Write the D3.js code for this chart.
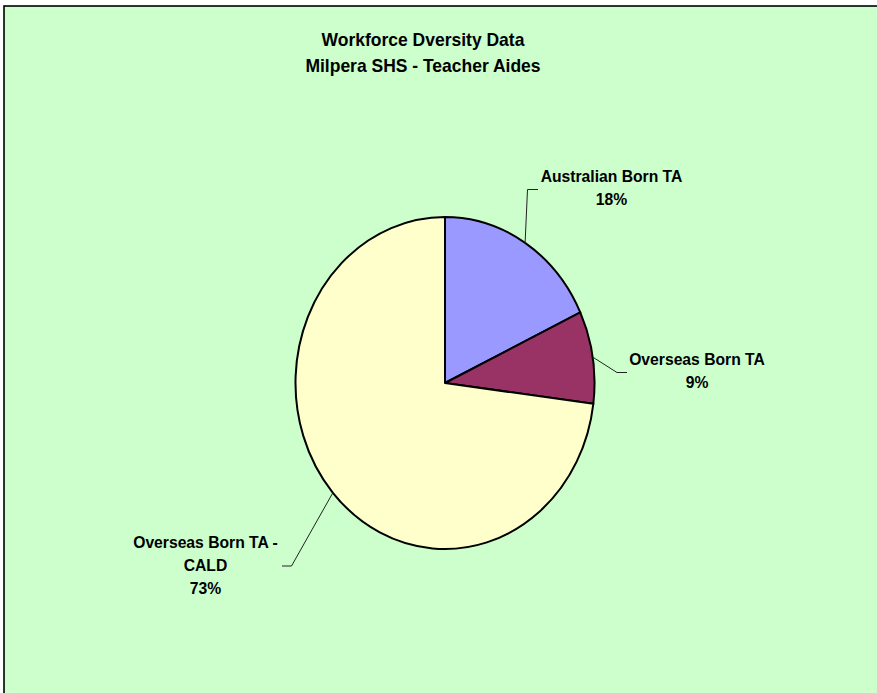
<!DOCTYPE html>
<html>
<head>
<meta charset="utf-8">
<script src="https://cdn.jsdelivr.net/npm/d3@7/dist/d3.min.js"></script>
<style>
  html, body { margin: 0; padding: 0; background: #ffffff; }
  svg { display: block; }
  text { font-family: "Liberation Sans", Arial, sans-serif; font-weight: bold; fill: #000; }
</style>
</head>
<body>
<svg id="chart" width="877" height="693"></svg>
<script>
// Workforce diversity – teacher aides at Milpera SHS (percent of staff)
const categories = ["Australian Born TA", "Overseas Born TA", "Overseas Born TA - CALD"];
const labelLines = [["Australian Born TA"], ["Overseas Born TA"], ["Overseas Born TA -", "CALD"]];
const percents = [18, 9, 73];
const colors = ["#9999FF", "#993366", "#FFFFCC"];
const titleLines = ["Workforce Dversity Data", "Milpera SHS - Teacher Aides"];

const W = 877, H = 693;
const svg = d3.select("#chart");
const textStretch = 1.06; // glyphs are drawn slightly taller than wide

// chart area
svg.append("rect")
  .attr("x", 4).attr("y", 6)
  .attr("width", W + 10).attr("height", H + 10)
  .attr("fill", "#CCFFCC")
  .attr("stroke", "#000").attr("stroke-width", 1.6);

// multi-line centred text block, first baseline at (x, y)
function textBlock(x, y, lines, size, gap) {
  const t = svg.append("text")
    .attr("text-anchor", "middle")
    .attr("transform", `translate(${x},${y}) scale(1,${textStretch})`)
    .style("font-size", size + "px");
  lines.forEach((s, j) => {
    t.append("tspan").attr("x", 0).attr("y", j * gap / textStretch).text(s);
  });
  return t;
}

// title
textBlock(423, 46, titleLines, 17.5, 26);

// elliptical pie: circular arcs stretched horizontally
const cx = 445, cy = 383, rx = 149.5, ry = 166;
const pie = d3.pie().sort(null).value(d => d)(percents);
const arc = d3.arc().innerRadius(0).outerRadius(ry);

const pieG = svg.append("g")
  .attr("transform", `translate(${cx},${cy}) scale(${rx / ry},1)`);
pieG.selectAll("path")
  .data(pie)
  .join("path")
  .attr("d", arc)
  .attr("fill", (d, i) => colors[i])
  .attr("stroke", "#000")
  .attr("stroke-width", 2)
  .attr("vector-effect", "non-scaling-stroke")
  .attr("stroke-linejoin", "round");

// label layout: elbow point, end of leader, and text anchor for each slice
const labelLayout = [
  { elbow: [527.5, 189.5], end: [538, 189.5], tx: 611.5, ty: 181.5 },
  { elbow: [617, 372.5], end: [627, 372.5], tx: 697, ty: 365 },
  { elbow: [291.5, 566], end: [282, 566], tx: 205.5, ty: 547.5 }
];

pie.forEach((d, i) => {
  const mid = (d.startAngle + d.endAngle) / 2;
  const sx = cx + rx * Math.sin(mid);
  const sy = cy - ry * Math.cos(mid);
  const L = labelLayout[i];
  svg.append("polyline")
    .attr("points", [[sx, sy], L.elbow, L.end].map(p => p.join(",")).join(" "))
    .attr("fill", "none")
    .attr("stroke", "#222")
    .attr("stroke-width", 1);

  textBlock(L.tx, L.ty, labelLines[i].concat([percents[i] + "%"]), 15.7, 23.5);
});
</script>
</body>
</html>
